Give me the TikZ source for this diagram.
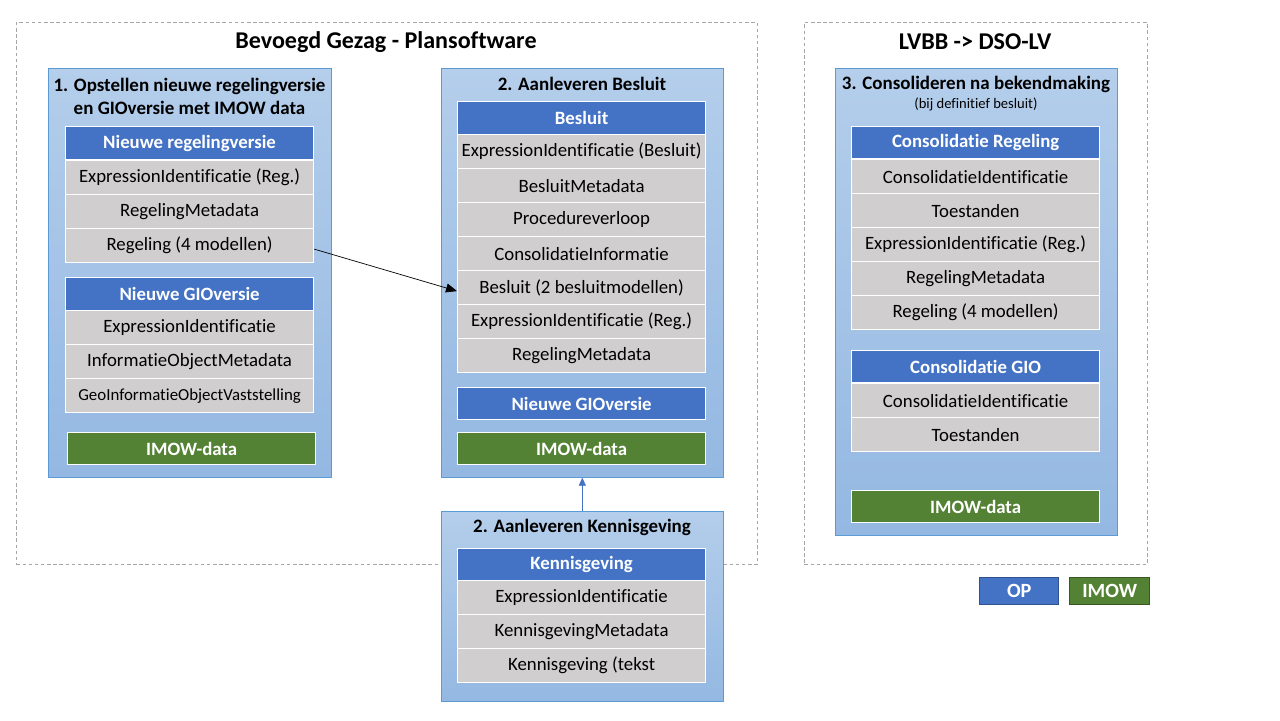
\documentclass[tikz,border=0pt]{standalone}
\usepackage{fontspec}
\setmainfont{Carlito}[Ligatures=NoCommon]
\usetikzlibrary{arrows.meta}

\definecolor{opblue}{HTML}{4472C4}
\definecolor{opedge}{HTML}{2F528F}
\definecolor{imowgreen}{HTML}{548235}
\definecolor{imowedge}{HTML}{385723}
\definecolor{rowgrey}{HTML}{D0CECE}
\definecolor{paneltop}{HTML}{B4CEEB}
\definecolor{panelbot}{HTML}{94B8E2}
\definecolor{paneledge}{HTML}{5B9BD5}
\definecolor{framegrey}{HTML}{A6A6A6}

\tikzstyle{frame} = [anchor=north west, draw=framegrey, dash pattern=on 2pt off 1.5pt, inner sep=0pt]
\tikzstyle{panel} = [anchor=north west, draw=paneledge, top color=paneltop, bottom color=panelbot, inner sep=0pt, minimum width=5.64cm]
\tikzstyle{hdr} = [anchor=north west, fill=opblue, draw=white, line width=0.7pt, text=white, font=\bfseries\fontsize{10.7}{12}\selectfont, minimum width=4.96cm, minimum height=0.66cm, inner sep=0pt]
\tikzstyle{row} = [anchor=north west, fill=rowgrey, draw=white, line width=0.7pt, font=\fontsize{10.7}{12}\selectfont, minimum width=4.96cm, minimum height=0.68cm, inner sep=0pt]
\tikzstyle{imow} = [hdr, fill=imowgreen, minimum height=0.64cm]
\tikzstyle{ptitle} = [font=\bfseries\fontsize{10.8}{13}\selectfont, align=center]
\tikzstyle{ftitle} = [font=\bfseries\fontsize{13.7}{16}\selectfont]
\tikzstyle{legend} = [anchor=north west, text=white, font=\bfseries\fontsize{11.5}{13}\selectfont, minimum width=1.58cm, minimum height=0.54cm, inner sep=0pt, line width=0.8pt]
\tikzstyle{arr} = [draw, -{Triangle[length=2.2mm,width=1.8mm]}]
\tikzstyle{barr} = [draw=opblue, -{Triangle[length=1.6mm,width=1.4mm]}]

\begin{document}
\begin{tikzpicture}[x=0.02cm,y=-0.02cm]
	\useasboundingbox (0,0) rectangle (1280,720);
	% kaders
	\node (frm1) at (16,22) [frame, minimum width=14.82cm, minimum height=10.84cm] {};
	\node (frm2) at (804,22) [frame, minimum width=6.86cm, minimum height=10.84cm] {};
	\node (ttl1) at (386,42) [ftitle] {Bevoegd Gezag - Plansoftware};
	\node (ttl2) at (975,42) [ftitle] {LVBB -> DSO-LV};

	% 1. opstellen
	\node (pnl1) at (48,68) [panel, minimum width=5.66cm, minimum height=8.18cm] {};
	\node (pt1) at (189.5,96) [ptitle] {1. Opstellen nieuwe regelingversie\\en GIOversie met IMOW data};
	\node (reg0) at (65,126) [hdr] {Nieuwe regelingversie};
	\node (reg1) at (65,160) [row] {ExpressionIdentificatie (Reg.)};
	\node (reg2) at (65,194) [row] {RegelingMetadata};
	\node (reg3) at (65,228) [row] {Regeling (4 modellen)};
	\node (gio0) at (65,277) [hdr] {Nieuwe GIOversie};
	\node (gio1) at (65,310) [row] {ExpressionIdentificatie};
	\node (gio2) at (65,344) [row] {InformatieObjectMetadata};
	\node (gio3) at (65,378) [row, font=\fontsize{9.6}{11}\selectfont] {GeoInformatieObjectVaststelling};
	\node (imow1) at (67,432) [imow] {IMOW-data};

	% 2. aanleveren besluit
	\node (pnl2) at (441,68) [panel, minimum height=8.18cm] {};
	\node (pt2) at (582,84) [ptitle] {2. Aanleveren Besluit};
	\node (bes0) at (457,101) [hdr] {Besluit};
	\node (bes1) at (457,134) [row] {ExpressionIdentificatie (Besluit)};
	\node (bes2) at (457,168) [row] {BesluitMetadata};
	\node (bes3) at (457,202) [row] {Procedureverloop};
	\node (bes4) at (457,236) [row] {ConsolidatieInformatie};
	\node (bes5) at (457,270) [row] {Besluit (2 besluitmodellen)};
	\node (bes6) at (457,304) [row] {ExpressionIdentificatie (Reg.)};
	\node (bes7) at (457,338) [row] {RegelingMetadata};
	\node (gio4) at (457,387) [hdr, minimum height=0.64cm] {Nieuwe GIOversie};
	\node (imow2) at (457,432) [imow] {IMOW-data};

	% 2. aanleveren kennisgeving
	\node (pnl3) at (441,511) [panel, minimum height=3.8cm] {};
	\node (pt3) at (582,527) [ptitle] {2. Aanleveren Kennisgeving};
	\node (ken0) at (457,548) [hdr, minimum height=0.64cm] {Kennisgeving};
	\node (ken1) at (457,580) [row] {ExpressionIdentificatie};
	\node (ken2) at (457,614) [row] {KennisgevingMetadata};
	\node (ken3) at (457,648) [row] {Kennisgeving (tekst};

	% 3. consolideren
	\node (pnl4) at (835,68) [panel, minimum height=9.34cm] {};
	\node (pt4) at (976,84) [ptitle] {3. Consolideren na bekendmaking};
	\node (sub4) at (976,104) [font=\fontsize{8.3}{9}\selectfont] {(bij definitief besluit)};
	\node (con0) at (851,126) [hdr, minimum height=0.64cm] {Consolidatie Regeling};
	\node (con1) at (851,159) [row] {ConsolidatieIdentificatie};
	\node (con2) at (851,193) [row] {Toestanden};
	\node (con3) at (851,227) [row] {ExpressionIdentificatie (Reg.)};
	\node (con4) at (851,261) [row] {RegelingMetadata};
	\node (con5) at (851,295) [row] {Regeling (4 modellen)};
	\node (cgio0) at (851,350) [hdr, minimum height=0.64cm] {Consolidatie GIO};
	\node (cgio1) at (851,383) [row] {ConsolidatieIdentificatie};
	\node (cgio2) at (851,417) [row] {Toestanden};
	\node (imow3) at (851,490) [imow] {IMOW-data};

	% legenda
	\node (leg1) at (979,577) [legend, fill=opblue, draw=opedge] {OP};
	\node (leg2) at (1069,577) [legend, fill=imowgreen, draw=imowedge, minimum width=1.6cm] {IMOW};

	\path[arr] ([yshift=-0.07cm]reg3.east) -- ([yshift=-0.07cm]bes5.west);
	\path[barr] (pnl3.north) -- (pnl2.south);
\end{tikzpicture}
\end{document}
